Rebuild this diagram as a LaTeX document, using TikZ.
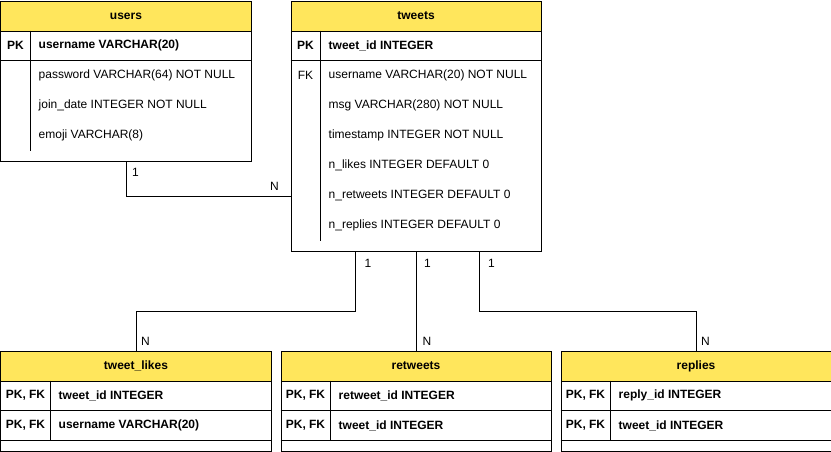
\documentclass[tikz,border=0pt]{standalone}
\usepackage{fontspec}
\setmainfont{Liberation Sans}
\usepackage{xcolor}
\usepackage{tikz}
\usetikzlibrary{positioning,calc}
\definecolor{hdryellow}{RGB}{255,230,92}
\newcommand{\erfont}{\fontsize{12}{14}\selectfont}
\tikzset{
  tblbox/.style ={draw, line width=1pt, anchor=north west, inner sep=0pt},
  hdrbox/.style ={draw, line width=1pt, fill=hdryellow, anchor=north west,
                  minimum height=30pt, font=\erfont\bfseries, inner sep=0pt},
  keytxt/.style ={inner sep=0pt, font=\erfont},
  fldtxt/.style ={anchor=west, inner sep=0pt, font=\erfont},
  bkeytxt/.style={keytxt, font=\erfont\bfseries},
  bfldtxt/.style={fldtxt, font=\erfont\bfseries},
  cardtxt/.style={inner sep=0pt, font=\erfont},
  sep/.style    ={line width=1pt},
  rel/.style    ={line width=1pt},
}

\begin{document}
\begin{tikzpicture}[x=1pt, y=-1pt]
  \useasboundingbox (-0.5,-0.5) rectangle (830.5,450.5);

  % users
  \node[tblbox, minimum width=250pt, minimum height=160pt] (users) at (0,0) {};
  \node[hdrbox, minimum width=250pt] (usershd) at (0,0) {users};
  \draw[sep] (0,60) -- (250,60);
  \draw[sep] (30,30) -- (30,150);
  \node[bkeytxt] (userspk) at (15,45) {PK};
  \node[bfldtxt] (usersname) at (38,45) {username VARCHAR(20)};
  \node[fldtxt] (userspass) at (38,75) {password VARCHAR(64) NOT NULL};
  \node[fldtxt] (usersjoin) at (38,105) {join\_date INTEGER NOT NULL};
  \node[fldtxt] (usersemoji) at (38,135) {emoji VARCHAR(8)};

  % tweets
  \node[tblbox, minimum width=250pt, minimum height=250pt] (tweets) at (290,0) {};
  \node[hdrbox, minimum width=250pt] (tweetshd) at (290,0) {tweets};
  \draw[sep] (290,60) -- (540,60);
  \draw[sep] (320,30) -- (320,240);
  \node[bkeytxt] (tweetspk) at (305,45) {PK};
  \node[keytxt] (tweetsfk) at (305,75) {FK};
  \node[bfldtxt] (tweetsid) at (328,45) {tweet\_id INTEGER};
  \node[fldtxt] (tweetsuser) at (328,75) {username VARCHAR(20) NOT NULL};
  \node[fldtxt] (tweetsmsg) at (328,105) {msg VARCHAR(280) NOT NULL};
  \node[fldtxt] (tweetstime) at (328,135) {timestamp INTEGER NOT NULL};
  \node[fldtxt] (tweetslikes) at (328,165) {n\_likes INTEGER DEFAULT 0};
  \node[fldtxt] (tweetsrts) at (328,195) {n\_retweets INTEGER DEFAULT 0};
  \node[fldtxt] (tweetsreps) at (328,225) {n\_replies INTEGER DEFAULT 0};

  % tweet_likes
  \node[tblbox, minimum width=270pt, minimum height=100pt] (likes) at (0,350) {};
  \node[hdrbox, minimum width=270pt] (likeshd) at (0,350) {tweet\_likes};
  \draw[sep] (0,410) -- (270,410);
  \draw[sep] (0,440) -- (270,440);
  \draw[sep] (50,380) -- (50,440);
  \node[bkeytxt] (likespk1) at (25,395) {PK, FK};
  \node[bkeytxt] (likespk2) at (25,425) {PK, FK};
  \node[bfldtxt] (likesid) at (58,395) {tweet\_id INTEGER};
  \node[bfldtxt] (likesuser) at (58,425) {username VARCHAR(20)};

  % retweets
  \node[tblbox, minimum width=270pt, minimum height=100pt] (retweets) at (280,350) {};
  \node[hdrbox, minimum width=270pt] (retweetshd) at (280,350) {retweets};
  \draw[sep] (280,410) -- (550,410);
  \draw[sep] (280,440) -- (550,440);
  \draw[sep] (330,380) -- (330,440);
  \node[bkeytxt] (retweetspk1) at (305,395) {PK, FK};
  \node[bkeytxt] (retweetspk2) at (305,425) {PK, FK};
  \node[bfldtxt] (retweetsid) at (338,395) {retweet\_id INTEGER};
  \node[bfldtxt] (retweetstw) at (338,425) {tweet\_id INTEGER};

  % replies
  \node[tblbox, minimum width=270pt, minimum height=100pt] (replies) at (560,350) {};
  \node[hdrbox, minimum width=270pt] (replieshd) at (560,350) {replies};
  \draw[sep] (560,410) -- (830,410);
  \draw[sep] (560,440) -- (830,440);
  \draw[sep] (610,380) -- (610,440);
  \node[bkeytxt] (repliespk1) at (585,395) {PK, FK};
  \node[bkeytxt] (repliespk2) at (585,425) {PK, FK};
  \node[bfldtxt] (repliesid) at (618,395) {reply\_id INTEGER};
  \node[bfldtxt] (repliestw) at (618,425) {tweet\_id INTEGER};

  % relations
  \draw[rel] (users.south) |- ([yshift=-70pt]tweets.west);
  \draw[rel] ([xshift=-61pt]tweets.south) -- ++(0,60) -| (likes.north);
  \draw[rel] (tweets.south) -- (retweets.north);
  \draw[rel] ([xshift=63pt]tweets.south) -- ++(0,60) -| (replies.north);

  % cardinalities
  \node[cardtxt] (c1) at (135,172) {1};
  \node[cardtxt] (cn1) at (274,186) {N};
  \node[cardtxt] (c2) at (367.5,263) {1};
  \node[cardtxt] (c3) at (427,263) {1};
  \node[cardtxt] (c4) at (491,263) {1};
  \node[cardtxt] (cn2) at (145,341) {N};
  \node[cardtxt] (cn3) at (426.5,341) {N};
  \node[cardtxt] (cn4) at (705,341) {N};
\end{tikzpicture}
\end{document}
